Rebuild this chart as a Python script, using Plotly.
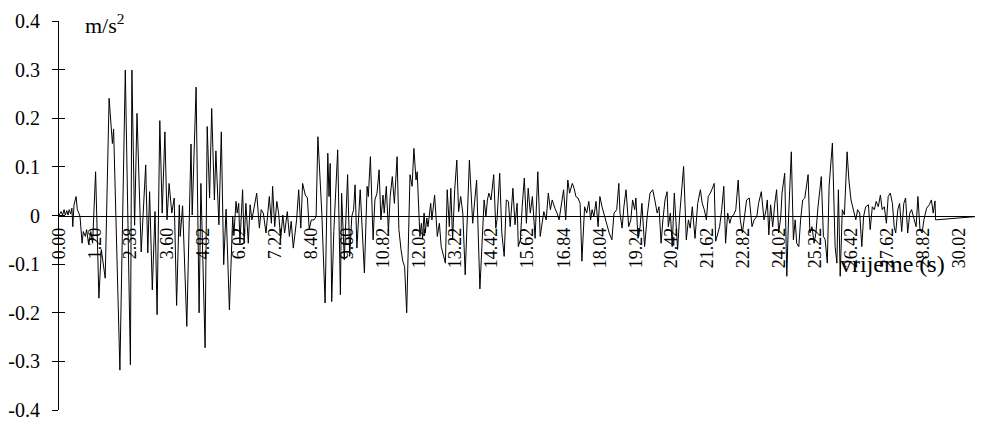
import plotly.graph_objects as go

# time (s) and acceleration (m/s^2)
time_s = [0.00, 0.07, 0.12, 0.17, 0.21, 0.26, 0.30, 0.34, 0.39, 0.43, 0.46, 0.50, 0.57, 0.61, 0.66, 0.70,
          0.77, 0.81, 0.88, 0.92, 0.99, 1.06, 1.12, 1.22, 1.33, 1.41, 1.54, 1.67, 1.78, 1.82, 2.03, 2.21,
          2.38, 2.43, 2.52, 2.60, 2.74, 2.89, 2.96, 3.02, 3.11, 3.20, 3.27, 3.36, 3.44, 3.53, 3.60, 3.67,
          3.76, 3.84, 3.92, 4.01, 4.04, 4.12, 4.26, 4.40, 4.44, 4.57, 4.67, 4.73, 4.87, 4.94, 5.02, 5.09,
          5.18, 5.23, 5.33, 5.41, 5.49, 5.57, 5.68, 5.79, 5.83, 5.90, 5.94, 5.99, 6.03, 6.12, 6.17, 6.23,
          6.31, 6.37, 6.43, 6.50, 6.59, 6.68, 6.74, 6.81, 6.90, 7.01, 7.08, 7.12, 7.19, 7.26, 7.32, 7.39,
          7.46, 7.52, 7.61, 7.68, 7.74, 7.81, 7.92, 7.99, 8.06, 8.12, 8.21, 8.28, 8.34, 8.41, 8.50, 8.57,
          8.63, 8.76, 8.87, 8.96, 9.00, 9.04, 9.09, 9.16, 9.29, 9.38, 9.42, 9.51, 9.62, 9.69, 9.76, 9.82,
          9.87, 9.93, 10.00, 10.04, 10.18, 10.27, 10.31, 10.38, 10.47, 10.53, 10.60, 10.67, 10.73, 10.80,
          10.84, 10.91, 10.98, 11.04, 11.11, 11.18, 11.27, 11.33, 11.40, 11.46, 11.52, 11.59, 11.70, 11.77,
          11.83, 11.90, 11.94, 12.03, 12.08, 12.12, 12.17, 12.21, 12.26, 12.30, 12.39, 12.43, 12.52, 12.61,
          12.68, 12.74, 12.88, 12.94, 13.01, 13.06, 13.12, 13.19, 13.26, 13.32, 13.39, 13.46, 13.54, 13.68,
          13.79, 13.92, 14.03, 14.17, 14.23, 14.28, 14.33, 14.40, 14.49, 14.56, 14.60, 14.69, 14.76, 14.84,
          14.91, 14.98, 15.04, 15.13, 15.20, 15.27, 15.31, 15.38, 15.44, 15.51, 15.58, 15.64, 15.71, 15.78,
          15.87, 15.96, 16.04, 16.11, 16.16, 16.24, 16.31, 16.38, 16.44, 16.53, 16.60, 16.67, 16.76, 16.82,
          16.89, 16.96, 17.02, 17.11, 17.17, 17.23, 17.30, 17.37, 17.43, 17.52, 17.59, 17.66, 17.72, 17.77,
          17.83, 17.90, 17.97, 18.03, 18.10, 18.17, 18.26, 18.34, 18.43, 18.50, 18.59, 18.66, 18.70, 18.77,
          18.83, 18.90, 18.99, 19.06, 19.12, 19.19, 19.23, 19.30, 19.37, 19.43, 19.52, 19.61, 19.70, 19.79,
          19.86, 19.94, 20.00, 20.07, 20.13, 20.20, 20.27, 20.31, 20.38, 20.44, 20.51, 20.56, 20.62, 20.69,
          20.76, 20.82, 20.91, 20.98, 21.04, 21.11, 21.20, 21.29, 21.38, 21.44, 21.51, 21.58, 21.64, 21.71,
          21.78, 21.84, 21.89, 21.96, 22.02, 22.09, 22.16, 22.22, 22.29, 22.36, 22.42, 22.49, 22.56, 22.64,
          22.71, 22.78, 22.83, 22.92, 23.01, 23.10, 23.17, 23.26, 23.32, 23.41, 23.50, 23.57, 23.61, 23.66,
          23.72, 23.79, 23.86, 23.92, 23.99, 24.06, 24.10, 24.19, 24.26, 24.32, 24.41, 24.48, 24.54, 24.59,
          24.66, 24.72, 24.79, 24.86, 24.97, 25.03, 25.10, 25.17, 25.23, 25.30, 25.41, 25.48, 25.54, 25.61,
          25.67, 25.78, 25.87, 25.93, 25.98, 26.04, 26.11, 26.18, 26.27, 26.33, 26.40, 26.49, 26.56, 26.62,
          26.69, 26.76, 26.82, 26.89, 26.98, 27.04, 27.11, 27.18, 27.24, 27.31, 27.38, 27.44, 27.51, 27.58,
          27.64, 27.71, 27.78, 27.84, 27.89, 27.96, 28.02, 28.09, 28.16, 28.22, 28.29, 28.36, 28.42, 28.57,
          28.63, 28.70, 28.77, 28.83, 28.92, 29.01, 29.08, 29.14, 29.20, 29.22, 29.80, 30.40, 30.80]

accel = [0.000, 0.008, 0.001, 0.012, 0.001, 0.010, 0.001, 0.012, 0.003, 0.015, -0.023, 0.022, 0.039, 0.012, 0.005, -0.002,
         -0.057, -0.033, -0.043, -0.029, -0.060, -0.033, -0.057, 0.090, -0.170, -0.070, -0.129, 0.241, 0.148, 0.178, -0.318, 0.299,
         -0.307, 0.299, -0.020, 0.210, -0.075, 0.104, -0.077, 0.049, -0.153, 0.008, -0.204, 0.195, 0.005, 0.172, -0.009, 0.066,
         0.005, 0.036, -0.185, 0.022, -0.043, 0.020, -0.228, 0.147, 0.001, 0.264, -0.200, 0.066, -0.272, 0.183, 0.036, 0.220,
         0.032, 0.133, -0.019, 0.172, -0.101, 0.013, -0.194, -0.002, -0.040, 0.029, 0.005, 0.025, -0.057, 0.053, -0.057, 0.025,
         -0.057, 0.022, -0.009, 0.012, 0.046, -0.026, 0.012, 0.005, -0.036, 0.039, -0.016, 0.060, -0.023, 0.029, 0.005, -0.047,
         0.001, -0.036, 0.008, -0.043, -0.012, -0.067, -0.009, 0.053, -0.026, 0.066, 0.042, 0.036, -0.029, -0.009, -0.009, -0.002,
         0.162, 0.005, -0.180, 0.128, 0.039, 0.107, -0.177, -0.033, 0.135, -0.163, 0.046, -0.091, 0.084, -0.084, -0.002, 0.012,
         0.063, -0.067, 0.025, 0.053, -0.118, 0.060, 0.039, 0.121, -0.050, 0.032, 0.046, 0.094, -0.009, 0.042,
         0.005, 0.060, -0.033, 0.039, 0.080, 0.025, 0.121, -0.029, -0.070, -0.094, -0.105, -0.200, 0.084, 0.060,
         0.138, 0.073, 0.090, -0.043, -0.016, -0.047, 0.005, -0.036, -0.005, -0.023, 0.025, -0.009, 0.042, -0.043,
         -0.016, -0.064, -0.098, 0.053, -0.023, 0.056, -0.050, 0.053, 0.114, 0.008, 0.039, 0.005, -0.122, 0.114,
         -0.016, 0.073, -0.151, 0.032, -0.002, 0.032, 0.046, 0.032, 0.084, -0.026, -0.009, 0.087, -0.036, -0.084,
         0.032, 0.029, -0.023, 0.056, -0.019, 0.025, -0.064, -0.050, 0.018, 0.077, -0.016, 0.056, 0.005, 0.039,
         -0.047, 0.090, -0.043, -0.009, 0.008, -0.009, 0.046, 0.012, 0.032, 0.015, 0.005, -0.009, 0.025, 0.053,
         -0.009, 0.073, 0.046, 0.066, 0.056, 0.039, 0.036, 0.025, -0.094, 0.018, 0.005, 0.029, -0.009, 0.012,
         -0.002, 0.029, -0.023, 0.039, 0.018, 0.001, -0.016, -0.036, -0.050, 0.005, 0.012, 0.066, 0.005, -0.026,
         0.018, 0.053, -0.023, -0.009, 0.032, 0.012, 0.036, -0.047, -0.023, 0.025, -0.064, 0.001, 0.046, 0.053,
         0.032, 0.005, 0.018, -0.057, -0.009, 0.032, 0.049, -0.023, 0.005, -0.064, 0.046, -0.009, -0.070, 0.001,
         0.053, 0.101, -0.050, -0.009, -0.026, 0.018, -0.047, 0.025, 0.053, 0.025, 0.012, -0.009, 0.039, 0.046,
         0.056, 0.066, -0.053, -0.036, -0.023, 0.012, 0.060, -0.057, 0.005, -0.016, -0.002, 0.001, 0.012, 0.073,
         -0.009, -0.036, -0.009, 0.032, 0.036, -0.023, -0.009, -0.002, 0.025, 0.049, -0.009, 0.012, 0.032, -0.040,
         0.022, -0.023, 0.025, 0.053, -0.036, -0.002, 0.046, 0.087, -0.125, -0.002, 0.131, -0.050, -0.009, -0.057,
         -0.064, -0.009, 0.032, 0.036, 0.084, -0.036, -0.023, -0.057, -0.036, 0.018, 0.080, -0.043, -0.050, -0.098,
         0.060, 0.149, -0.064, -0.098, 0.053, -0.125, 0.012, 0.001, 0.131, 0.073, 0.032, 0.008, -0.009, 0.012,
         0.005, -0.064, -0.002, 0.018, 0.022, -0.029, 0.018, 0.012, 0.029, 0.018, 0.042, 0.012, 0.018, -0.016,
         0.039, 0.046, 0.025, -0.023, -0.036, 0.012, 0.025, -0.033, 0.025, 0.036, -0.036, 0.005, 0.012, -0.023,
         0.039, -0.029, -0.036, -0.009, 0.015, 0.022, 0.032, 0.005, 0.030, -0.009, -0.006, -0.003, -0.001]

x_tick_labels = ["0.00", "1.20", "2.38", "3.60", "4.82", "6.02", "7.22", "8.40", "9.60", "10.82",
                 "12.02", "13.22", "14.42", "15.62", "16.84", "18.04", "19.24", "20.42", "21.62",
                 "22.82", "24.02", "25.22", "26.42", "27.62", "28.82", "30.02"]
y_tick_values = [0.4, 0.3, 0.2, 0.1, 0.0, -0.1, -0.2, -0.3, -0.4]
y_tick_labels = ["0.4", "0.3", "0.2", "0.1", "0", "-0.1", "-0.2", "-0.3", "-0.4"]

SERIF = "Liberation Serif"

fig = go.Figure()
fig.add_trace(go.Scatter(x=time_s, y=accel, mode="lines",
                         line=dict(color="black", width=1), showlegend=False, hoverinfo="skip"))
# second y axis only to draw the inner half of the crossing tick marks
fig.add_trace(go.Scatter(x=[time_s[0]], y=[accel[0]], yaxis="y2", mode="lines",
                         line=dict(width=0), showlegend=False, hoverinfo="skip"))

# the page body has an 8 px default margin, so the figure is 8 px smaller
fig.update_layout(
    width=975, height=413,
    margin=dict(l=51, r=0, t=13, b=11),
    paper_bgcolor="white", plot_bgcolor="white",
    font=dict(family=SERIF, color="black"),
    xaxis=dict(range=[0, 30.8], tickvals=[float(v) for v in x_tick_labels], ticktext=x_tick_labels,
               tickangle=-90, ticks="", showgrid=False, zeroline=False,
               showline=True, linecolor="black", linewidth=1,
               anchor="free", position=0.5, tickfont=dict(size=18, family=SERIF, color="black"),
               ticklabelstandoff=4, ticklabeloverflow="allow", automargin=False),
    yaxis=dict(range=[-0.4, 0.4], tickvals=y_tick_values, ticktext=y_tick_labels,
               ticks="outside", ticklen=6, tickcolor="black", showgrid=False, zeroline=False,
               showline=True, linecolor="black", linewidth=1,
               tickfont=dict(size=20, family=SERIF, color="black"),
               ticklabelstandoff=8, ticklabeloverflow="allow", automargin=False),
    yaxis2=dict(range=[-0.4, 0.4], overlaying="y", side="left", tickvals=y_tick_values,
                showticklabels=False, ticks="inside", ticklen=6, tickcolor="black",
                showgrid=False, zeroline=False, showline=False),
    annotations=[
        dict(x=0.8, y=0.394, xref="x", yref="y", xanchor="left", yanchor="middle",
             text="m/s<sup>2</sup>",
             showarrow=False, font=dict(size=22, family=SERIF, color="black")),
        dict(x=25.97, y=-0.1, xref="x", yref="y", xanchor="left", yanchor="middle",
             text="vrijeme (s)", showarrow=False, font=dict(size=24, family=SERIF, color="black")),
    ],
)

fig.write_html("out.html")
